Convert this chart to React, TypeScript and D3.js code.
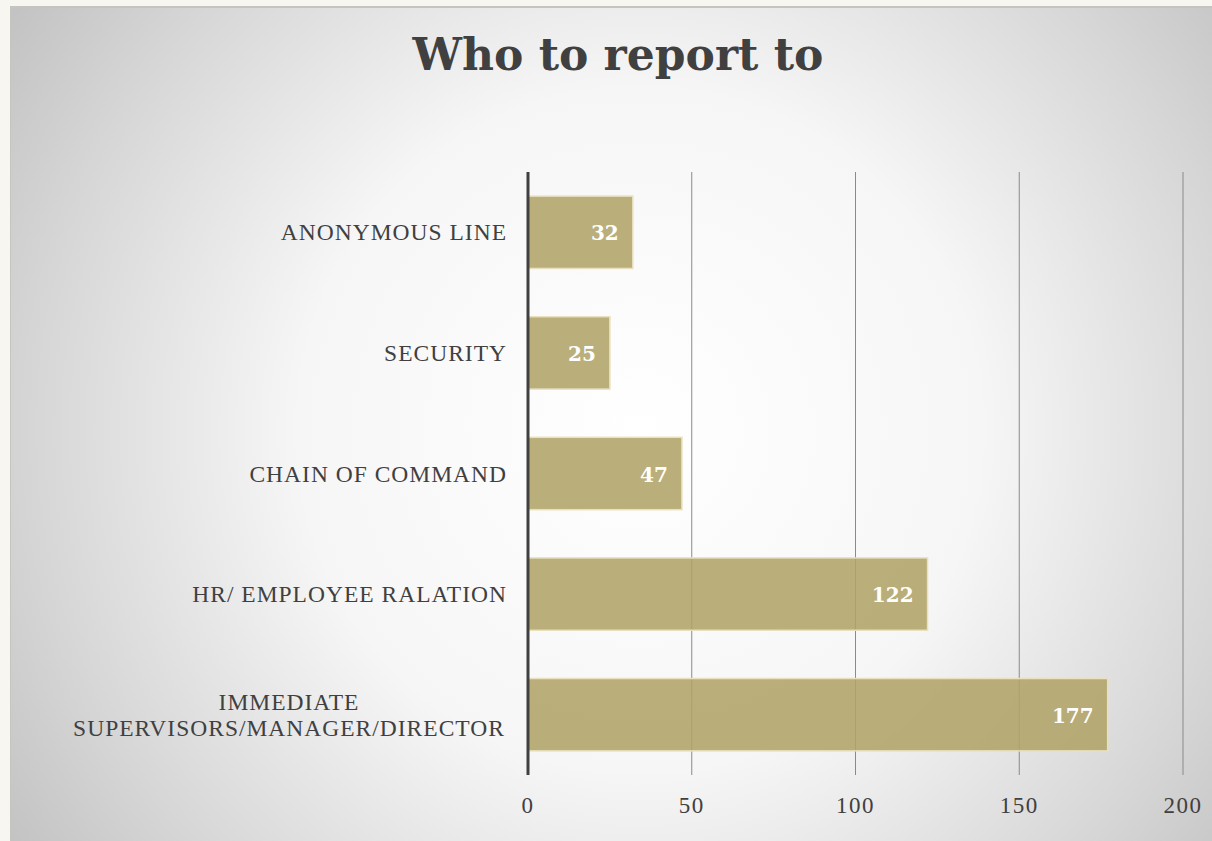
import React from "react";
import * as d3 from "d3";

const categories = [
  "ANONYMOUS LINE",
  "SECURITY",
  "CHAIN OF COMMAND",
  "HR/ EMPLOYEE RALATION",
  "IMMEDIATE SUPERVISORS/MANAGER/DIRECTOR",
];
const categoryLines = [
  ["ANONYMOUS LINE"],
  ["SECURITY"],
  ["CHAIN OF COMMAND"],
  ["HR/ EMPLOYEE RALATION"],
  ["IMMEDIATE", "SUPERVISORS/MANAGER/DIRECTOR"],
];
const values = [32, 25, 47, 122, 177];
const tickValues = [0, 50, 100, 150, 200];
const title = "Who to report to";

export default function App() {
  const W = 1212, H = 841;
  const x = d3.scaleLinear().domain([0, 200]).range([528, 1183]);
  const y = d3.scaleBand<string>().domain(categories).range([172, 775]).paddingInner(0.4).paddingOuter(0.2);
  const serif = "'Liberation Serif', 'Times New Roman', serif";
  const titleFont = "'DejaVu Serif', Georgia, serif";
  const labelSize = 23.5;
  const labelSpacing = 1.0;
  return (
    <div style={{ position: "fixed", left: 0, top: 0, width: W, height: H }}>
      <svg width={W} height={H} style={{ display: "block" }}>
        <defs>
          <radialGradient id="bg" cx="640" cy="430" r="760" gradientUnits="userSpaceOnUse">
            <stop offset="0" stopColor="#ffffff" />
            <stop offset="0.45" stopColor="#f6f6f6" />
            <stop offset="0.8" stopColor="#d6d6d6" />
            <stop offset="1" stopColor="#c2c2c2" />
          </radialGradient>
        </defs>
        <rect x={0} y={0} width={W} height={H} fill="#f7f6f1" />
        <rect x={10} y={6} width={W - 10} height={H - 6} fill="#c4c5bf" />
        <rect x={11} y={8} width={W - 11} height={H - 8} fill="url(#bg)" />
        <text x={618} y={70} textAnchor="middle" fontFamily={titleFont} fontWeight="bold" fontSize={44} fill="#404040">
          {title}
        </text>
        {tickValues.map((t) => (
          <g key={t}>
            {t !== 0 && (
              <line x1={x(t)} x2={x(t)} y1={172} y2={775} stroke="#8a8a8a" strokeWidth={1} />
            )}
            <text x={x(t)} y={813} textAnchor="middle" fontFamily={serif} fontSize={23} letterSpacing={1.5} fill="#404040">
              {t}
            </text>
          </g>
        ))}
        {categories.map((c, i) => {
          const by = y(c)!;
          const bh = y.bandwidth();
          const lines = categoryLines[i];
          const cy = by + bh / 2;
          const lh = 26;
          const multi = lines.length > 1;
          // for multi-line labels, centre lines over the longest line, right edge at 507
          const blockCenter = 289;
          return (
            <g key={c}>
              <rect x={x(0)} y={by} width={x(values[i]) - x(0)} height={bh} fill="#b0a368" fillOpacity={0.88} stroke="#e8e0bf" strokeWidth={1.5} />
              <text x={x(values[i]) - 14} y={cy + 8} textAnchor="end" fontFamily={titleFont} fontWeight="bold" fontSize={20} fill="#ffffff">
                {values[i]}
              </text>
              {lines.map((l, j) => (
                <text
                  key={j}
                  x={multi ? blockCenter : 507}
                  y={cy + 8 + (j - (lines.length - 1) / 2) * lh}
                  textAnchor={multi ? "middle" : "end"}
                  fontFamily={serif}
                  fontSize={labelSize}
                  letterSpacing={labelSpacing}
                  fill="#404040"
                >
                  {l}
                </text>
              ))}
            </g>
          );
        })}
        <line x1={x(0)} x2={x(0)} y1={172} y2={775} stroke="#404040" strokeWidth={3} />
      </svg>
    </div>
  );
}
